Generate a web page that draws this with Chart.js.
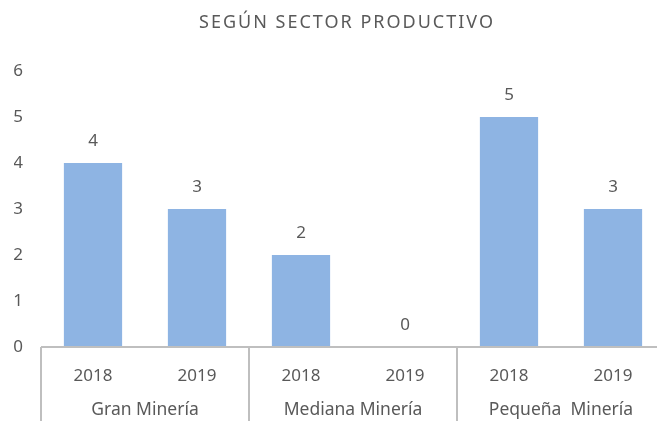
<!DOCTYPE html>
<html>
<head>
<meta charset="utf-8">
<script src="https://cdn.jsdelivr.net/npm/chart.js@4/dist/chart.umd.min.js"></script>
<style>
  html, body { margin: 0; padding: 0; background: #fff; overflow: hidden; }
</style>
</head>
<body>
<canvas id="sectorChart" width="665" height="421"></canvas>
<script>
// data
var years = ['2018', '2019', '2018', '2019', '2018', '2019'];
var groups = ['Gran Minería', 'Mediana Minería', 'Pequeña  Minería'];
var values = [4, 3, 2, 0, 5, 3];
var yTicks = [0, 1, 2, 3, 4, 5, 6];

var textColor = '#595959';
var lineColor = '#bfbfbf';
var fontFamily = '"Noto Sans", "Open Sans", sans-serif';

// title, value labels, group labels and separators
var extras = {
  id: 'extras',
  afterDraw: function(chart) {
    var ctx = chart.ctx;
    var area = chart.chartArea;
    var xs = chart.scales.x;
    var bottom = chart.height;
    ctx.save();

    // title
    ctx.fillStyle = textColor;
    ctx.font = '18px ' + fontFamily;
    ctx.textAlign = 'center';
    ctx.textBaseline = 'middle';
    if (ctx.letterSpacing !== undefined) ctx.letterSpacing = '2px';
    ctx.fillText('SEGÚN SECTOR PRODUCTIVO', (area.left + area.right) / 2 - 6, 23);
    if (ctx.letterSpacing !== undefined) ctx.letterSpacing = '0px';

    // value labels
    ctx.font = '17px ' + fontFamily;
    var meta = chart.getDatasetMeta(0);
    meta.data.forEach(function(bar, i) {
      ctx.fillText(String(values[i]), bar.x, bar.y - 22);
    });

    // separators and group labels
    var step = xs.getPixelForValue(1) - xs.getPixelForValue(0);
    ctx.strokeStyle = lineColor;
    ctx.lineWidth = 2;
    for (var g = 0; g <= groups.length; g++) {
      var idx = g * 2;
      var px = Math.round(xs.getPixelForValue(0) - step / 2 + idx * step);
      ctx.beginPath();
      ctx.moveTo(px, area.bottom);
      ctx.lineTo(px, bottom);
      ctx.stroke();
    }
    ctx.font = '17.5px ' + fontFamily;
    groups.forEach(function(name, g) {
      var cx = (xs.getPixelForValue(g * 2) + xs.getPixelForValue(g * 2 + 1)) / 2;
      ctx.fillText(name, cx, area.bottom + 63);
    });

    // axis line
    ctx.beginPath();
    ctx.moveTo(area.left, area.bottom);
    ctx.lineTo(area.right, area.bottom);
    ctx.stroke();
    ctx.restore();
  }
};

new Chart(document.getElementById('sectorChart'), {
  type: 'bar',
  data: {
    labels: years,
    datasets: [{
      data: values,
      backgroundColor: '#8EB4E3',
      borderWidth: 0,
      categoryPercentage: 1,
      barPercentage: 0.56
    }]
  },
  options: {
    responsive: false,
    animation: false,
    layout: { padding: { left: 14, right: 0, top: 71, bottom: 0 } },
    plugins: {
      legend: { display: false },
      title: { display: false },
      tooltip: { enabled: false }
    },
    scales: {
      x: {
        grid: { display: false, drawTicks: false },
        border: { display: false },
        afterFit: function(scale) { scale.height = 74; },
        ticks: {
          color: textColor,
          font: { family: fontFamily, size: 17 },
          padding: 19,
          maxRotation: 0
        }
      },
      y: {
        min: 0,
        max: 6,
        afterBuildTicks: function(scale) {
          scale.ticks = yTicks.map(function(v) { return { value: v }; });
        },
        afterFit: function(scale) { scale.width = 27; },
        grid: { display: false, drawTicks: false },
        border: { display: false },
        ticks: {
          color: textColor,
          font: { family: fontFamily, size: 17 },
          padding: 18
        }
      }
    }
  },
  plugins: [extras]
});
</script>
</body>
</html>
